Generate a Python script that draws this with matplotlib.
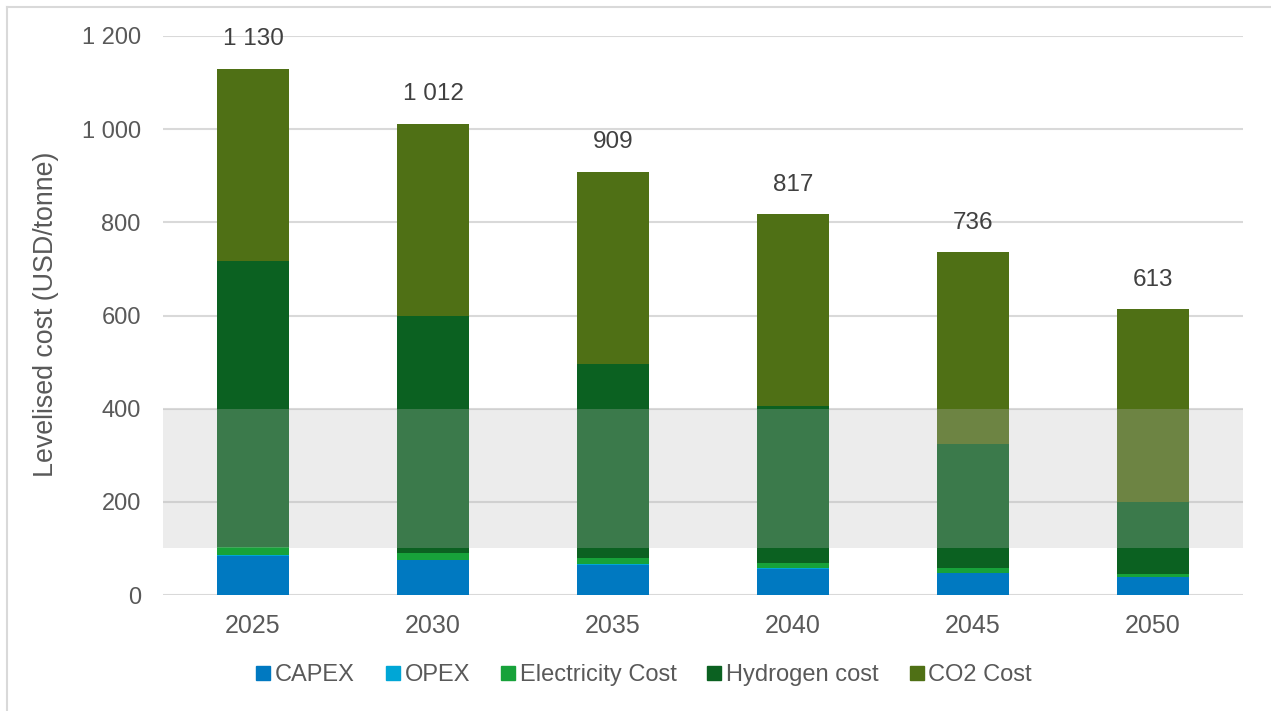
import matplotlib
matplotlib.use("Agg")
import matplotlib.pyplot as plt
from matplotlib.lines import Line2D
import numpy as np

years = ["2025", "2030", "2035", "2040", "2045", "2050"]
totals = [1130, 1012, 909, 817, 736, 613]
capex = [84, 75, 64, 55, 47, 38]
opex = [1, 1, 2, 2, 1, 1]
electricity = [17, 15, 13, 12, 10, 6]
hydrogen = [615, 508, 417, 336, 266, 155]
co2 = [413, 413, 413, 412, 412, 413]

series = [
    ("CAPEX", capex, "#0079c1"),
    ("OPEX", opex, "#00a6d6"),
    ("Electricity Cost", electricity, "#17a23a"),
    ("Hydrogen cost", hydrogen, "#0b6121"),
    ("CO2 Cost", co2, "#4f7015"),
]

plt.rcParams["font.family"] = ["Liberation Sans", "DejaVu Sans"]
text_color = "#595959"
fs = 17

fig = plt.figure(figsize=(12.71, 7.11), dpi=100)
ax = fig.add_axes([163 / 1271, 1 - 595 / 711, (1243 - 163) / 1271, (595 - 36) / 711])

x = np.arange(len(years))
bottom = np.zeros(len(years))
for name, vals, col in series:
    ax.bar(x, vals, width=0.4, bottom=bottom, color=col, label=name, zorder=2)
    bottom += np.array(vals)

# shaded range drawn over the bars
ax.axhspan(100, 400, color="#bbbbbb", alpha=0.28, zorder=3, lw=0)

for xi, t in zip(x, totals):
    ax.annotate(f"{t:,}".replace(",", " "), (xi, t), xytext=(0, 17),
                textcoords="offset points", ha="center", va="baseline",
                fontsize=fs + 0.5, color="#404040")

ax.set_xlim(-0.5, len(years) - 0.5)
ax.set_ylim(0, 1200)
ax.set_yticks(np.arange(0, 1201, 200))
ax.set_yticklabels([f"{v:,}".replace(",", " ") for v in range(0, 1201, 200)])
ax.set_xticks(x)
ax.set_xticklabels(years)
ax.tick_params(axis="both", length=0, labelsize=fs, labelcolor=text_color)
ax.tick_params(axis="x", labelsize=fs + 1)
ax.tick_params(axis="y", pad=16)
ax.tick_params(axis="x", pad=14)
ax.grid(axis="y", color="#d9d9d9", lw=1.5, zorder=0)
ax.set_axisbelow(True)
for s in ax.spines.values():
    s.set_visible(False)

fig.text(46 / 1271, 1 - 314 / 711, "Levelised cost (USD/tonne)", rotation=90,
         ha="center", va="center", fontsize=19.3, color=text_color)

handles = [Line2D([], [], marker="s", ls="none", color=c, markersize=10.5)
           for _, _, c in series]
fig.legend(handles, [n for n, _, _ in series], loc="center",
           bbox_to_anchor=(643 / 1271, 1 - 675 / 711), ncol=5, frameon=False,
           fontsize=fs, labelcolor=text_color, handletextpad=0.1,
           columnspacing=1.2, handlelength=0.8)

# outer frame
fig.add_artist(Line2D([6.5 / 1271, 6.5 / 1271], [0, 1 - 6.5 / 711],
                      transform=fig.transFigure, color="#d9d9d9", lw=1.5))
fig.add_artist(Line2D([6.5 / 1271, 1], [1 - 6.5 / 711, 1 - 6.5 / 711],
                      transform=fig.transFigure, color="#d9d9d9", lw=1.5))

fig.savefig("out.png", dpi=100)
